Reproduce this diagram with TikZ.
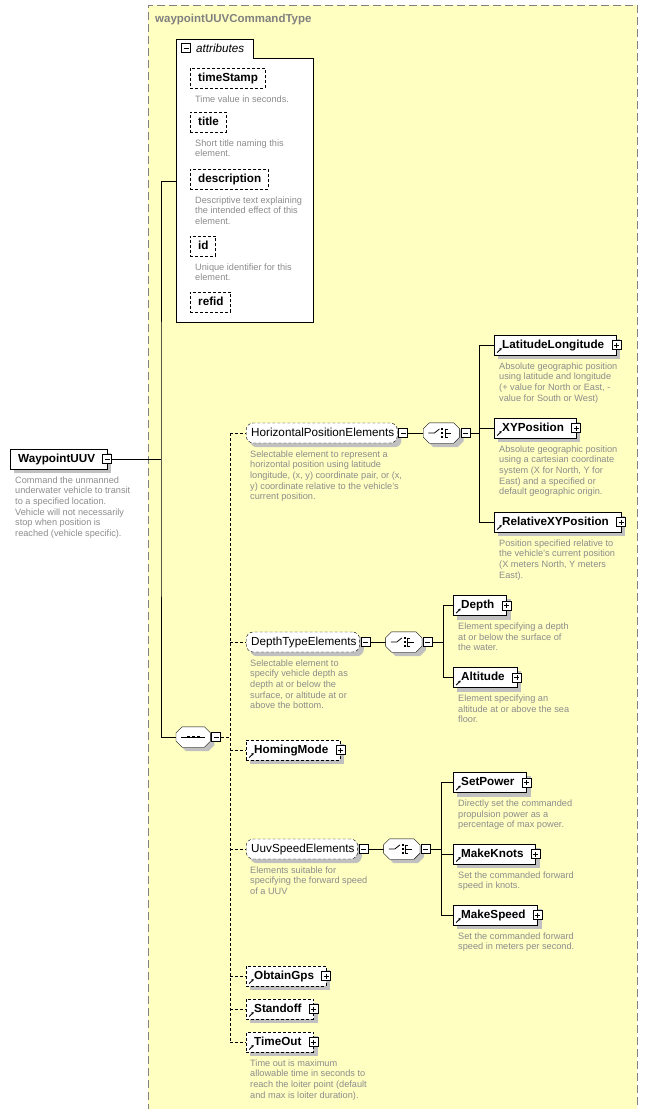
\documentclass[tikz,border=0pt]{standalone}
\usepackage{fontspec}
\setmainfont{Liberation Sans}
\usetikzlibrary{positioning,arrows.meta}

\pgfdeclarelayer{frame}
\pgfdeclarelayer{shade}
\pgfsetlayers{frame,shade,main}

\definecolor{typefill}{HTML}{FFFFC2}
\definecolor{typeline}{HTML}{808080}
\definecolor{descgrey}{HTML}{8C8C8C}
\definecolor{shadowgrey}{HTML}{C0C0C0}

\newcommand\namefont{\fontsize{11.7}{14}\selectfont}
\newcommand\descfont{\fontsize{9.2}{10.7}\selectfont}

% octagon outline of a compositor node, shifted by #2
\newcommand\octagon[2]{([shift={(6+#2,#2)}]#1.north west) -- ([shift={(-6+#2,#2)}]#1.north east)
    -- ([shift={(#2,6+#2)}]#1.north east) -- ([shift={(#2,-6+#2)}]#1.south east)
    -- ([shift={(-6+#2,#2)}]#1.south east) -- ([shift={(6+#2,#2)}]#1.south west)
    -- ([shift={(#2,-6+#2)}]#1.south west) -- ([shift={(#2,6+#2)}]#1.north west) -- cycle}

\tikzset{
    xdash/.style={dash pattern=on 3pt off 2pt},
    namebox/.style={draw, fill=white, minimum height=20pt, inner sep=0pt, anchor=west,
        text height=8.5pt, text depth=2.5pt},
    elem/.style={namebox, font=\namefont\bfseries,
        execute at begin node=\hspace*{8pt}, execute at end node=\hspace*{12pt}},
    refelem/.style={elem, path picture={\draw[solid, line width=0.9pt, -{Stealth[length=2.6pt, width=2.8pt]}]
        ([shift={(3,-2.5)}]path picture bounding box.south west) -- ++(4.5,-4.5);}},
    optelem/.style={refelem, xdash},
    attr/.style={namebox, xdash, font=\namefont\bfseries,
        execute at begin node=\hspace*{8pt}, execute at end node=\hspace*{7pt}},
    grp/.style={namebox, xdash, rounded corners=7pt, font=\namefont,
        execute at begin node=\hspace*{5pt}, execute at end node=\hspace*{3pt}},
    minusbox/.style={draw, fill=white, minimum size=9pt, inner sep=0pt, line width=0.8pt,
        path picture={\draw[solid] ([xshift=2pt]path picture bounding box.west) -- ([xshift=-2pt]path picture bounding box.east);}},
    plusbox/.style={draw, fill=white, minimum size=9pt, inner sep=0pt, line width=0.8pt,
        path picture={\draw[solid] ([xshift=2pt]path picture bounding box.west) -- ([xshift=-2pt]path picture bounding box.east);
            \draw[solid] ([yshift=-2pt]path picture bounding box.north) -- ([yshift=2pt]path picture bounding box.south);}},
    compositor/.style={minimum height=20pt, inner sep=0pt, anchor=west},
    sequence/.style={compositor, minimum width=34pt},
    choice/.style={compositor, minimum width=36pt},
    seqsign/.style={line width=0.8pt},
    desc/.style={font=\descfont, text=descgrey, align=left, anchor=north west, inner sep=0pt},
    ctype/.style={draw=typeline, fill=typefill, dash pattern=on 8pt off 4pt, anchor=north west,
        minimum width=489pt, minimum height=1115pt, inner sep=0pt},
    attrbox/.style={draw, fill=white, anchor=north west, minimum width=137pt, minimum height=264pt, inner sep=0pt},
    attrtab/.style={draw, fill=white, anchor=south west, minimum width=77pt, minimum height=19pt, inner sep=0pt}
}

\begin{document}
\begin{tikzpicture}[x=1pt, y=-1pt, line width=0.9pt]
    \useasboundingbox (0,0) rectangle (654,1109);

    % complex type frame
    \begin{pgfonlayer}{frame}
        \node[ctype] (ctype) at (148,5) {};
    \end{pgfonlayer}
    \node[anchor=west, inner sep=0pt, text=typeline, font=\fontsize{11.5}{13}\selectfont\bfseries]
        (ctitle) at ([shift={(7,15)}]ctype.north west) {waypointUUVCommandType};

    % attributes
    \node[attrbox] (attrs) at (176,58) {};
    \node[attrtab] (atab) at (attrs.north west) {};
    \draw[white, line width=1.2pt] ([xshift=0.7pt]atab.south west) -- ([xshift=-0.7pt]atab.south east);
    \node[minusbox] (atabm) at ([xshift=10pt]atab.west) {};
    \node[anchor=west, inner sep=0pt, font=\namefont\itshape] (atabt) at ([xshift=20pt]atab.west) {attributes};

    \node[attr] (timeStamp) at (190,78) {timeStamp};
    \node[desc] (timeStamp-d) at ([shift={(5,7)}]timeStamp.south west) {Time value in seconds.};
    \node[attr] (title) at (190,122) {title};
    \node[desc] (title-d) at ([shift={(5,7)}]title.south west) {Short title naming this\\element.};
    \node[attr] (description) at (190,179) {description};
    \node[desc] (description-d) at ([shift={(5,7)}]description.south west)
        {Descriptive text explaining\\the intended effect of this\\element.};
    \node[attr] (id) at (190,246) {id};
    \node[desc] (id-d) at ([shift={(5,7)}]id.south west) {Unique identifier for this\\element.};
    \node[attr] (refid) at (190,302) {refid};

    % root element
    \node[elem] (wp) at (10,459) {WaypointUUV};
    \node[minusbox] (wpm) at (wp.east) {};
    \node[desc] (wp-d) at ([shift={(5,7)}]wp.south west)
        {Command the unmanned\\underwater vehicle to transit\\to a specified location.\\Vehicle will not necessarily\\stop when position is\\reached (vehicle specific).};

    % sequence
    \node[sequence] (seq) at (176,737) {};
    \draw[fill=white] \octagon{seq}{0};
    \begin{scope}[shift={(seq.center)}, seqsign]
        \draw (-12,0) -- (12,0);
        \foreach \d in {-5,0,5} \fill (\d-1.4,-1.4) rectangle (\d+1.4,1.4);
    \end{scope}
    \node[minusbox, anchor=west] (seqm) at ([xshift=1pt]seq.east) {};

    \coordinate (trunk) at (161,459);
    \draw (wpm.east) -- (wpm.east -| trunk);
    \draw ([yshift=9pt]attrs.west) -| (trunk) |- (seq.west);

    % horizontal position
    \node[grp] (hpe) at (246,433) {HorizontalPositionElements};
    \node[minusbox, anchor=west] (hpem) at ([xshift=1pt]hpe.east) {};
    \node[desc] (hpe-d) at ([shift={(4,7)}]hpe.south west)
        {Selectable element to represent a\\horizontal position using latitude\\longitude, (x, y) coordinate pair, or (x,\\y) coordinate relative to the vehicle's\\current position.};
    \node[choice, right=15pt of hpem] (chH) {};
    \node[minusbox, anchor=west] (chHm) at ([xshift=1pt]chH.east) {};
    \draw (hpem) -- (chH);
    \draw (chHm.east) -- ++(9,0) coordinate (busH);

    \node[refelem] (latlon) at (494,345) {LatitudeLongitude};
    \node[desc] (latlon-d) at ([shift={(5,7)}]latlon.south west)
        {Absolute geographic position\\using latitude and longitude\\(+ value for North or East, -\\value for South or West)};
    \node[refelem] (xypos) at (494,428) {XYPosition};
    \node[desc] (xypos-d) at ([shift={(5,7)}]xypos.south west)
        {Absolute geographic position\\using a cartesian coordinate\\system (X for North, Y for\\East) and a specified or\\default geographic origin.};
    \node[refelem] (relxy) at (494,522) {RelativeXYPosition};
    \node[desc] (relxy-d) at ([shift={(5,7)}]relxy.south west)
        {Position specified relative to\\the vehicle's current position\\(X meters North, Y meters\\East).};
    \foreach \c in {latlon,xypos,relxy} \draw (busH) |- (\c.west);

    % depth type
    \node[grp] (dte) at (246,642) {DepthTypeElements};
    \node[minusbox, anchor=west] (dtem) at ([xshift=1pt]dte.east) {};
    \node[desc] (dte-d) at ([shift={(4,7)}]dte.south west)
        {Selectable element to\\specify vehicle depth as\\depth at or below the\\surface, or altitude at or\\above the bottom.};
    \node[choice, right=15pt of dtem] (chD) {};
    \node[minusbox, anchor=west] (chDm) at ([xshift=1pt]chD.east) {};
    \draw (dtem) -- (chD);
    \draw (chDm.east) -- ++(10,0) coordinate (busD);

    \node[refelem] (depth) at (453,605.5) {Depth};
    \node[desc] (depth-d) at ([shift={(5,7)}]depth.south west)
        {Element specifying a depth\\at or below the surface of\\the water.};
    \node[refelem] (altitude) at (453,677.5) {Altitude};
    \node[desc] (altitude-d) at ([shift={(5,7)}]altitude.south west)
        {Element specifying an\\altitude at or above the sea\\floor.};
    \foreach \c in {depth,altitude} \draw (busD) |- (\c.west);

    % homing
    \node[optelem] (homing) at (246,750) {HomingMode};

    % speed
    \node[grp] (uuvspd) at (246,849) {UuvSpeedElements};
    \node[minusbox, anchor=west] (uuvspdm) at ([xshift=1pt]uuvspd.east) {};
    \node[desc] (uuvspd-d) at ([shift={(4,7)}]uuvspd.south west)
        {Elements suitable for\\specifying the forward speed\\of a UUV};
    \node[choice, right=15pt of uuvspdm] (chS) {};
    \node[minusbox, anchor=west] (chSm) at ([xshift=1pt]chS.east) {};
    \draw (uuvspdm) -- (chS);
    \draw (chSm.east) -- ++(10,0) coordinate (busS);

    \node[refelem] (setpower) at (453,782.5) {SetPower};
    \node[desc] (setpower-d) at ([shift={(5,7)}]setpower.south west)
        {Directly set the commanded\\propulsion power as a\\percentage of max power.};
    \node[refelem] (makeknots) at (453,854) {MakeKnots};
    \node[desc] (makeknots-d) at ([shift={(5,7)}]makeknots.south west)
        {Set the commanded forward\\speed in knots.};
    \node[refelem] (makespeed) at (453,915) {MakeSpeed};
    \node[desc] (makespeed-d) at ([shift={(5,7)}]makespeed.south west)
        {Set the commanded forward\\speed in meters per second.};
    \foreach \c in {setpower,makeknots,makespeed} \draw (busS) |- (\c.west);

    % choice outlines and signs
    \foreach \c in {chH,chD,chS} {
        \draw[fill=white] \octagon{\c}{0};
        \begin{scope}[shift={(\c.center)}, seqsign]
            \draw (-13,0) -- (-7,0) -- (-2,-4);
            \foreach \d in {-4,0,4} \fill (0,\d-1) rectangle (2,\d+1);
            \draw (4,-4.5) -- (4,4.5) (4,0) -- (10,0) (4,-4) -- (6.5,-4) (4,4) -- (6.5,4);
        \end{scope}
    }

    % remaining optional elements
    \node[optelem] (gps) at (246,976) {ObtainGps};
    \node[optelem] (standoff) at (246,1009) {Standoff};
    \node[optelem] (timeout) at (246,1042) {TimeOut};
    \node[desc] (timeout-d) at ([shift={(4,7)}]timeout.south west)
        {Time out is maximum\\allowable time in seconds to\\reach the loiter point (default\\and max is loiter duration).};

    % expand boxes
    \foreach \e in {latlon,xypos,relxy,depth,altitude,homing,setpower,makeknots,makespeed,gps,standoff,timeout}
        \node[plusbox] (\e-p) at (\e.east) {};

    % sequence bus
    \coordinate (bus) at (230,737);
    \draw[xdash] (seqm.east) -- (bus);
    \draw[xdash] (hpe.west -| bus) -- (timeout.west -| bus);
    \foreach \c in {hpe,dte,homing,uuvspd,gps,standoff,timeout} \draw[xdash] (\c.west -| bus) -- (\c.west);

    % shadows
    \begin{pgfonlayer}{shade}
        \foreach \e in {timeStamp,title,description,id,refid,wp,latlon,xypos,relxy,depth,altitude,homing,setpower,makeknots,makespeed,gps,standoff,timeout}
            \fill[shadowgrey] ([shift={(4,4)}]\e.north west) rectangle ([shift={(4,4)}]\e.south east);
        \foreach \e in {hpe,dte,uuvspd}
            \fill[shadowgrey, rounded corners=7pt] ([shift={(4,4)}]\e.north west) rectangle ([shift={(4,4)}]\e.south east);
        \foreach \e in {seq,chH,chD,chS}
            \fill[shadowgrey] \octagon{\e}{4};
    \end{pgfonlayer}

\end{tikzpicture}
\end{document}
